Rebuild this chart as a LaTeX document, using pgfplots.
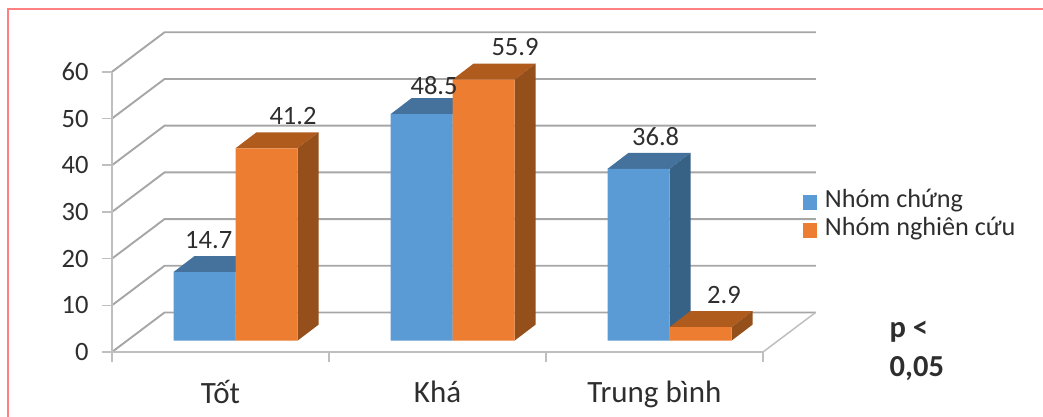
\documentclass[border=0pt]{standalone}
\usepackage{fontspec}
\setmainfont{Carlito}
\usepackage{pgfplots}
\pgfplotsset{compat=1.18}
\definecolor{txt}{HTML}{2E2E2E}
\definecolor{gridc}{HTML}{A6A6A6}
\definecolor{axisc}{HTML}{BFBFBF}
\definecolor{blueF}{HTML}{5B9BD5}
\definecolor{blueT}{HTML}{44729D}
\definecolor{blueS}{HTML}{386285}
\definecolor{orangeF}{HTML}{ED7D31}
\definecolor{orangeT}{HTML}{B05B1E}
\definecolor{orangeS}{HTML}{944F1A}
\definecolor{framec}{HTML}{FF8080}
\newcommand\lab{\fontsize{26.5}{30}\selectfont}
\newcommand\catlab{\fontsize{31}{36}\selectfont}

% top and side of a box: left x, right x, value, top colour, side colour
\newcommand\boxfaces[5]{%
  \pgfmathsetmacro\xa{#2+0.0968}\pgfmathsetmacro\xb{#1+0.0968}%
  \pgfmathsetmacro\ya{#3+3.43}%
  \edef\temp{\noexpand\addplot[forget plot,fill=#4,draw=none] coordinates {(#1,#3)(#2,#3)(\xa,\ya)(\xb,\ya)};
    \noexpand\addplot[forget plot,fill=#5,draw=none] coordinates {(#2,0)(\xa,3.43)(\xa,\ya)(#2,#3)};}\temp}
% one grid level: along the side wall, then along the back wall
\newcommand\wall[1]{%
  \pgfmathsetmacro\yb{#1+8.46}%
  \edef\temp{\noexpand\addplot[forget plot,gridc,line width=1.9pt] coordinates {(0,#1)(0.242,\yb)(3.244,\yb)};}\temp}

\begin{document}
\begin{tikzpicture}[x=1pt,y=1pt]
\path[use as bounding box] (0,0) rectangle (1043,416);
\draw[framec,line width=2pt] (7.5,-2) -- (7.5,406.5) -- (1046,406.5);

% walls, floor and the value scale
\begin{axis}[
  at={(112pt,64pt)},anchor=origin,
  x=217pt,y=4.67pt,
  xmin=0,xmax=3.244,ymin=0,ymax=68.7,
  clip=false,
  axis line style={draw=none},
  tick align=outside,xtick pos=bottom,ytick pos=left,
  major tick length=10pt,
  tick style={axisc,line width=1.5pt},
  xtick={0,1,2,3},xticklabels={},
  extra x ticks={0.5,1.5,2.5},
  extra x tick labels={Tốt,Khá,Trung bình},
  extra x tick style={tick style={draw=none},
    xticklabel style={font=\catlab,text=txt,yshift=-15pt}},
  ytick={0,10,...,60},
  /pgf/number format/assume math mode=true,
  yticklabel style={font=\lab,text=txt,xshift=-10pt},
]
\wall{0}\wall{10}\wall{20}\wall{30}\wall{40}\wall{50}\wall{60}
\addplot[forget plot,axisc,line width=1.5pt] coordinates {(3,0)(3.242,8.46)};
\addplot[forget plot,axisc,line width=2pt] coordinates {(0,0)(3,0)};
\addplot[forget plot,axisc,line width=2pt] coordinates {(0,0)(0,60)};
\end{axis}

% the boxes stand a little way into the floor
\begin{axis}[
  at={(127pt,75.3pt)},anchor=origin,
  x=217pt,y=4.67pt,
  xmin=0,xmax=3,ymin=0,ymax=60,
  clip=false,hide axis,
  legend style={at={(1.038,0.4415)},anchor=west,draw=none,fill=none,inner sep=0pt,
    font=\fontsize{26.2}{31}\selectfont\color{txt},legend cell align=left,
    row sep=0pt,nodes={text height=17pt,text depth=7pt}},
  legend image code/.code={\fill[#1,draw=none] (0pt,-7.5pt) rectangle (14pt,7.5pt);\path (20pt,0pt);},
]
\boxfaces{0.2143}{0.5}{14.7}{blueT}{blueS}
\boxfaces{1.2143}{1.5}{48.5}{blueT}{blueS}
\boxfaces{2.2143}{2.5}{36.8}{blueT}{blueS}
\addplot[ybar,bar width=62pt,bar shift=-31pt,fill=blueF,draw=none]
  coordinates {(0.5,14.7)(1.5,48.5)(2.5,36.8)};
\addlegendentry{Nhóm chứng}
\boxfaces{0.5}{0.7857}{41.2}{orangeT}{orangeS}
\boxfaces{1.5}{1.7857}{55.9}{orangeT}{orangeS}
\boxfaces{2.5}{2.7857}{2.9}{orangeT}{orangeS}
\addplot[ybar,bar width=62pt,bar shift=31pt,fill=orangeF,draw=none]
  coordinates {(0.5,41.2)(1.5,55.9)(2.5,2.9)};
\addlegendentry{Nhóm nghiên cứu}
\node[anchor=base,font=\lab,text=txt] at (axis cs:0.3765,19.85) {14.7};
\node[anchor=base,font=\lab,text=txt] at (axis cs:0.765,46.4) {41.2};
\node[anchor=base,font=\lab,text=txt] at (axis cs:1.415,52.8) {48.5};
\node[anchor=base,font=\lab,text=txt] at (axis cs:1.788,61.0) {55.9};
\node[anchor=base,font=\lab,text=txt] at (axis cs:2.436,41.8) {36.8};
\node[anchor=base,font=\lab,text=txt] at (axis cs:2.751,7.86) {2.9};
\end{axis}

\node[anchor=base west,inner sep=0pt,font=\fontsize{30.5}{34}\selectfont\bfseries,text=txt] at (889.5,79) {p <};
\node[anchor=base west,inner sep=0pt,font=\fontsize{30.5}{34}\selectfont\bfseries,text=txt] at (889.5,40) {0,05};
\end{tikzpicture}
\end{document}
